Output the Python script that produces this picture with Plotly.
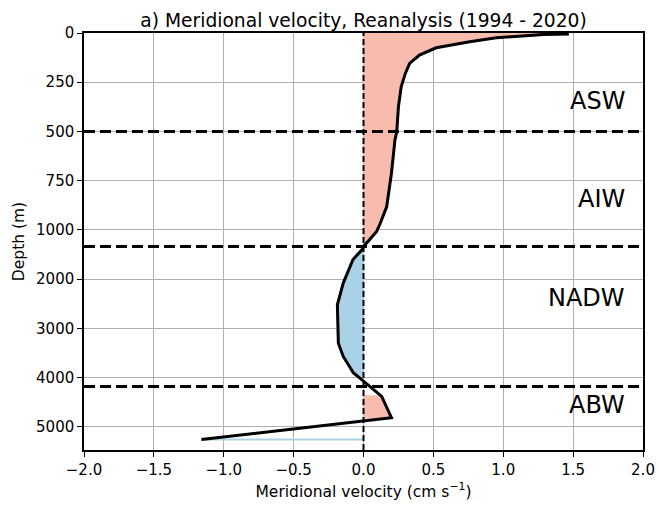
import plotly.graph_objects as go

# Profile data (depth in m, meridional velocity in cm/s)
depth = [5, 7, 24, 44, 75, 112, 154, 204, 272, 374, 500, 543, 712, 881, 970, 1030,
         1330, 1400, 1600, 2080, 2520, 3300, 3570, 3900, 4000, 4380, 4815, 5255]
vel = [1.47, 1.29, 0.95, 0.76, 0.52, 0.40, 0.33, 0.30, 0.27, 0.25, 0.238, 0.225, 0.20,
       0.166, 0.118, 0.094, 0.003, -0.01, -0.075, -0.145, -0.187, -0.18, -0.145, -0.073,
       -0.03, 0.13, 0.20, -1.16]

layer_bounds = [500, 1335, 4180]
layer_names = ["ASW", "AIW", "NADW", "ABW"]
layer_label_depths = [345, 842, 2380, 4550]

ytick_depths = [0, 250, 500, 750, 1000, 2000, 3000, 4000, 5000]
xtick_vals = [-2.0, -1.5, -1.0, -0.5, 0.0, 0.5, 1.0, 1.5, 2.0]


def tr(d):
    # piecewise-linear depth scale: 0-1000 m stretched, below 1000 m compressed
    return d / 250.0 if d <= 1000 else 4.0 + (d - 1000) / 1000.0


ty = [tr(d) for d in depth]

RED = "#f8bcae"
BLUE = "#a9d2e6"

fig = go.Figure()


def runs(cond):
    out, cur = [], []
    for i, c in enumerate(cond):
        if c:
            cur.append(i)
        elif cur:
            out.append(cur); cur = []
    if cur:
        out.append(cur)
    return out


for cond, col in (([v > 0 for v in vel], RED), ([v < 0 for v in vel], BLUE)):
    for r in runs(cond):
        xs = [0] + [vel[i] for i in r] + [0]
        ys = [ty[r[0]]] + [ty[i] for i in r] + [ty[r[-1]]]
        fig.add_trace(go.Scatter(x=xs, y=ys, mode="lines", fill="toself",
                                 fillcolor=col, line=dict(color=col, width=2),
                                 hoverinfo="skip", showlegend=False))

fig.add_trace(go.Scatter(x=vel, y=ty, mode="lines",
                         line=dict(color="black", width=3), showlegend=False))

shapes = []
for b in layer_bounds:
    shapes.append(dict(type="line", xref="paper", x0=0, x1=1, yref="y", y0=tr(b), y1=tr(b),
                       line=dict(color="black", width=3, dash="11px,5px")))
shapes.append(dict(type="line", xref="x", x0=0, x1=0, yref="paper", y0=0, y1=1,
                   line=dict(color="black", width=2, dash="6px,3px")))

annotations = []
for name, d in zip(layer_names, layer_label_depths):
    annotations.append(dict(x=1.885, y=tr(d), xref="x", yref="y", text=name, showarrow=False,
                            xanchor="right", yanchor="middle",
                            font=dict(size=24, color="black")))

fig.update_layout(
    width=659, height=506,
    margin=dict(l=84, r=16, t=33, b=56, autoexpand=False),
    paper_bgcolor="white", plot_bgcolor="white",
    font=dict(family="DejaVu Sans", color="black", size=15),
    title=dict(text="a) Meridional velocity, Reanalysis (1994 - 2020)", x=0.5, xref="paper",
               xanchor="center", y=0.96, yref="container", yanchor="middle",
               font=dict(size=18.7)),
    shapes=shapes, annotations=annotations,
    xaxis=dict(range=[-2, 2], tickvals=xtick_vals, automargin=False,
               ticktext=[f"{v:.1f}".replace("-", "\u2212") for v in xtick_vals],
               showgrid=True, gridcolor="#b0b0b0", gridwidth=1, zeroline=False,
               showline=True, linecolor="black", linewidth=1.5, mirror=True,
               ticks="outside", ticklen=5, tickcolor="black", tickfont=dict(size=15),
               title=dict(text="Meridional velocity (cm s<sup>\u22121</sup>)", standoff=8,
                          font=dict(size=15.5))),
    yaxis=dict(range=[8.47, 0], tickvals=[tr(d) for d in ytick_depths], automargin=False,
               ticktext=[str(d) for d in ytick_depths],
               showgrid=True, gridcolor="#b0b0b0", gridwidth=1, zeroline=False,
               showline=True, linecolor="black", linewidth=1.5, mirror=True,
               ticks="outside", ticklen=5, tickcolor="black", tickfont=dict(size=15),
               title=dict(text="Depth (m)", standoff=8, font=dict(size=15.5))),
)

fig.write_html("out.html")
